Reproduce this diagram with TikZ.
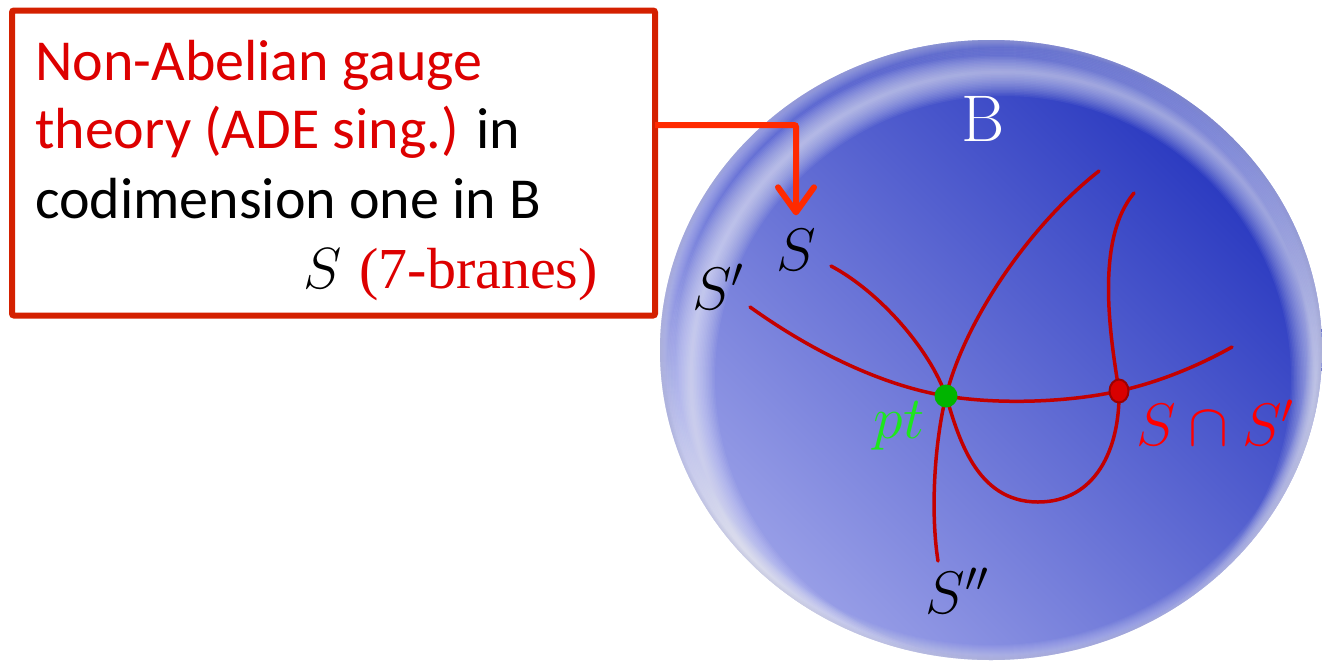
\RequirePackage{fix-cm}
\documentclass[tikz,border=0pt]{standalone}
\usepackage{fontspec}
\usetikzlibrary{arrows.meta,calc,shapes.geometric}
\newfontfamily\calibri{Carlito}
\newfontfamily\timesrm{Liberation Serif}
\definecolor{boxRed}{HTML}{D42000}
\definecolor{arrowRed}{HTML}{FF2A00}
\definecolor{textRed}{HTML}{DD0000}
\definecolor{braneRed}{HTML}{C40000}
\definecolor{ptGreen}{HTML}{1EE61E}
\definecolor{dotGreen}{HTML}{00B400}
\definecolor{capRed}{HTML}{FF0000}
\definecolor{baseDark}{HTML}{2434BE}
\definecolor{baseMid}{HTML}{6670D6}
\definecolor{baseLight}{HTML}{9BA1E8}
\definecolor{rimGrey}{HTML}{9296C8}

\begin{document}
\begin{tikzpicture}[x=1pt,y=-1pt,
  boxline/.style={font=\calibri\fontsize{58}{68}\selectfont,anchor=base west,inner sep=0},
  brane/.style={braneRed,line width=3.5,line cap=round},
  lbl/.style={font=\fontsize{60}{64}\selectfont,inner sep=0},
  pointer/.style={arrowRed,line width=6,rounded corners=2,
    -{Straight Barb[length=25pt,width=36pt,round]}}]
  \useasboundingbox (0,0) rectangle (1322,662);

  % the base B
  \coordinate (ctr) at (991,350);
  \shade[top color=baseDark,middle color=baseMid,bottom color=baseLight,shading angle=-45]
    (ctr) ellipse [x radius=331,y radius=310];
  \begin{scope}
    \clip (ctr) ellipse [x radius=331,y radius=310];
    \foreach \w in {2,4,...,30}
      \draw[white,opacity=0.035,line width=\w] (ctr) ellipse [x radius=331,y radius=310];
    \foreach \w in {3,6,...,48}
      \draw[white,opacity=0.05,line width=\w] (1003,378) ellipse [x radius=312,y radius=306];
    \foreach \w in {2,4,...,8}
      \draw[rimGrey,opacity=0.06,line width=\w] (ctr) ellipse [x radius=331,y radius=310];
  \end{scope}
  \node[font=\fontsize{66}{66}\selectfont,white,inner sep=0] (lblB) at (983,119) {B};

  % the 7-branes
  \coordinate (p) at (946,396);
  \coordinate (q) at (1119,391);
  \draw[brane] (831,266) .. controls (880,292) and (930,350) .. (p)
    .. controls (958,435) and (975,502) .. (1038,502)
    .. controls (1095,502) and (1120,450) .. (q)
    .. controls (1110,335) and (1095,240) .. (1134,193);
  \draw[brane] (1099,171) .. controls (1030,225) and (965,320) .. (p)
    .. controls (935,440) and (930,510) .. (938,561);
  \draw[brane] (750,307) .. controls (810,350) and (880,385) .. (p)
    .. controls (1000,405) and (1070,402) .. (q)
    .. controls (1160,382) and (1200,365) .. (1232,347);
  \node[circle,fill=dotGreen,minimum size=23,inner sep=0] (pt) at (p) {};
  \node[ellipse,fill=capRed!85!black,draw=braneRed!80!black,line width=2,
    minimum width=19,minimum height=23,inner sep=0] (cap) at (q) {};

  \node[lbl] (lblS) at (796,250) {$S$};
  \node[lbl] (lblSp) at (718,287) {$S'$};
  \node[lbl] (lblSpp) at (957,591) {$S''$};
  \node[lbl,ptGreen] (lblpt) at (899,426) {$pt$};
  \node[lbl,capRed] (lblcap) at (1215,423) {$S\cap S'$};

  % the text box
  \node[draw=boxRed,line width=6,rounded corners=2,minimum width=643,minimum height=305,
    inner sep=0] (desc) at (333.5,163) {};
  \node[boxline,textRed] (l1) at (35,80) {Non-Abelian gauge};
  \node[boxline] (l2) at (35,148) {\textcolor{textRed}{theory (ADE sing.)} in};
  \node[boxline] (l3) at (35,218) {codimension one in B};
  \node[boxline] (l4) at (303,288) {$S$\hspace{18pt}{\timesrm\color{textRed}(7-branes)}};

  \coordinate (tap) at (655,125);
  \draw[pointer] (tap) -| ([yshift=14]lblS.north);
\end{tikzpicture}
\end{document}
